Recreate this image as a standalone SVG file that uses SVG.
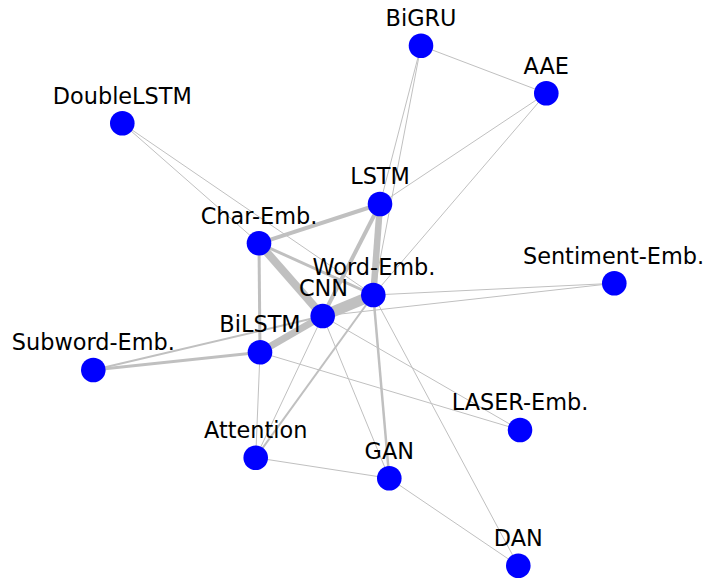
<svg xmlns="http://www.w3.org/2000/svg" width="705" height="581" viewBox="0 0 705 581">
<style>
.e{stroke:#c0c0c0;stroke-linecap:butt;fill:none}
.n{fill:#0000ff}
.l{font-family:"DejaVu Sans",sans-serif;font-size:22.4px;fill:#000;text-anchor:middle}
</style>
<rect width="705" height="581" fill="#fff"/>
<g id="edges">
<line class="e" stroke-width="1" x1="421" y1="45.7" x2="546.3" y2="93.3"/>
<line class="e" stroke-width="1" x1="421" y1="45.7" x2="380" y2="204"/>
<line class="e" stroke-width="1" x1="421" y1="45.7" x2="373.3" y2="295"/>
<line class="e" stroke-width="1" x1="546.3" y1="93.3" x2="380" y2="204"/>
<line class="e" stroke-width="1" x1="546.3" y1="93.3" x2="373.3" y2="295"/>
<line class="e" stroke-width="1" x1="122.3" y1="123.3" x2="259" y2="243.3"/>
<line class="e" stroke-width="1" x1="122.3" y1="123.3" x2="373.3" y2="295"/>
<line class="e" stroke-width="4" x1="380" y1="204" x2="259" y2="243.3"/>
<line class="e" stroke-width="6.5" x1="380" y1="204" x2="373.3" y2="295"/>
<line class="e" stroke-width="4" x1="380" y1="204" x2="322.7" y2="316"/>
<line class="e" stroke-width="8" x1="259" y1="243.3" x2="322.7" y2="316"/>
<line class="e" stroke-width="3" x1="259" y1="243.3" x2="373.3" y2="295"/>
<line class="e" stroke-width="3" x1="259" y1="243.3" x2="260" y2="352.3"/>
<line class="e" stroke-width="11" x1="322.7" y1="316" x2="373.3" y2="295"/>
<line class="e" stroke-width="7" x1="322.7" y1="316" x2="260" y2="352.3"/>
<line class="e" stroke-width="3" x1="93.3" y1="370" x2="260" y2="352.3"/>
<line class="e" stroke-width="2" x1="93.3" y1="370" x2="322.7" y2="316"/>
<line class="e" stroke-width="1" x1="373.3" y1="295" x2="614.3" y2="283.3"/>
<line class="e" stroke-width="1" x1="322.7" y1="316" x2="614.3" y2="283.3"/>
<line class="e" stroke-width="1" x1="322.7" y1="316" x2="520" y2="430"/>
<line class="e" stroke-width="1" x1="260" y1="352.3" x2="520" y2="430"/>
<line class="e" stroke-width="1" x1="373.3" y1="295" x2="518.3" y2="565.7"/>
<line class="e" stroke-width="2.5" x1="373.3" y1="295" x2="389.3" y2="478.3"/>
<line class="e" stroke-width="1" x1="322.7" y1="316" x2="389.3" y2="478.3"/>
<line class="e" stroke-width="1" x1="322.7" y1="316" x2="255.7" y2="457.7"/>
<line class="e" stroke-width="2" x1="373.3" y1="295" x2="255.7" y2="457.7"/>
<line class="e" stroke-width="1" x1="260" y1="352.3" x2="255.7" y2="457.7"/>
<line class="e" stroke-width="1" x1="255.7" y1="457.7" x2="389.3" y2="478.3"/>
<line class="e" stroke-width="1" x1="389.3" y1="478.3" x2="518.3" y2="565.7"/>
</g>
<g id="BiGRU"><circle class="n" cx="421" cy="45.7" r="12.3"/><text class="l" x="421" y="26">BiGRU</text></g>
<g id="AAE"><circle class="n" cx="546.3" cy="93.3" r="12.3"/><text class="l" x="546.3" y="73.5">AAE</text></g>
<g id="DoubleLSTM"><circle class="n" cx="122.3" cy="123.3" r="12.3"/><text class="l" x="122.3" y="103.5">DoubleLSTM</text></g>
<g id="LSTM"><circle class="n" cx="380" cy="204" r="12.3"/><text class="l" x="380" y="184">LSTM</text></g>
<g id="Char-Emb"><circle class="n" cx="259" cy="243.3" r="12.3"/><text class="l" x="259" y="223.5">Char-Emb.</text></g>
<g id="Word-Emb"><circle class="n" cx="373.3" cy="295" r="12.3"/><text class="l" x="374" y="275">Word-Emb.</text></g>
<g id="Sentiment-Emb"><circle class="n" cx="614.3" cy="283.3" r="12.3"/><text class="l" x="613.5" y="263.5">Sentiment-Emb.</text></g>
<g id="CNN"><circle class="n" cx="322.7" cy="316" r="12.3"/><text class="l" x="323.5" y="296">CNN</text></g>
<g id="BiLSTM"><circle class="n" cx="260" cy="352.3" r="12.3"/><text class="l" x="260" y="332">BiLSTM</text></g>
<g id="Subword-Emb"><circle class="n" cx="93.3" cy="370" r="12.3"/><text class="l" x="93.3" y="350">Subword-Emb.</text></g>
<g id="LASER-Emb"><circle class="n" cx="520" cy="430" r="12.3"/><text class="l" x="520" y="410">LASER-Emb.</text></g>
<g id="Attention"><circle class="n" cx="255.7" cy="457.7" r="12.3"/><text class="l" x="255.7" y="438">Attention</text></g>
<g id="GAN"><circle class="n" cx="389.3" cy="478.3" r="12.3"/><text class="l" x="389.3" y="458.5">GAN</text></g>
<g id="DAN"><circle class="n" cx="518.3" cy="565.7" r="12.3"/><text class="l" x="518.3" y="546">DAN</text></g>
</svg>
